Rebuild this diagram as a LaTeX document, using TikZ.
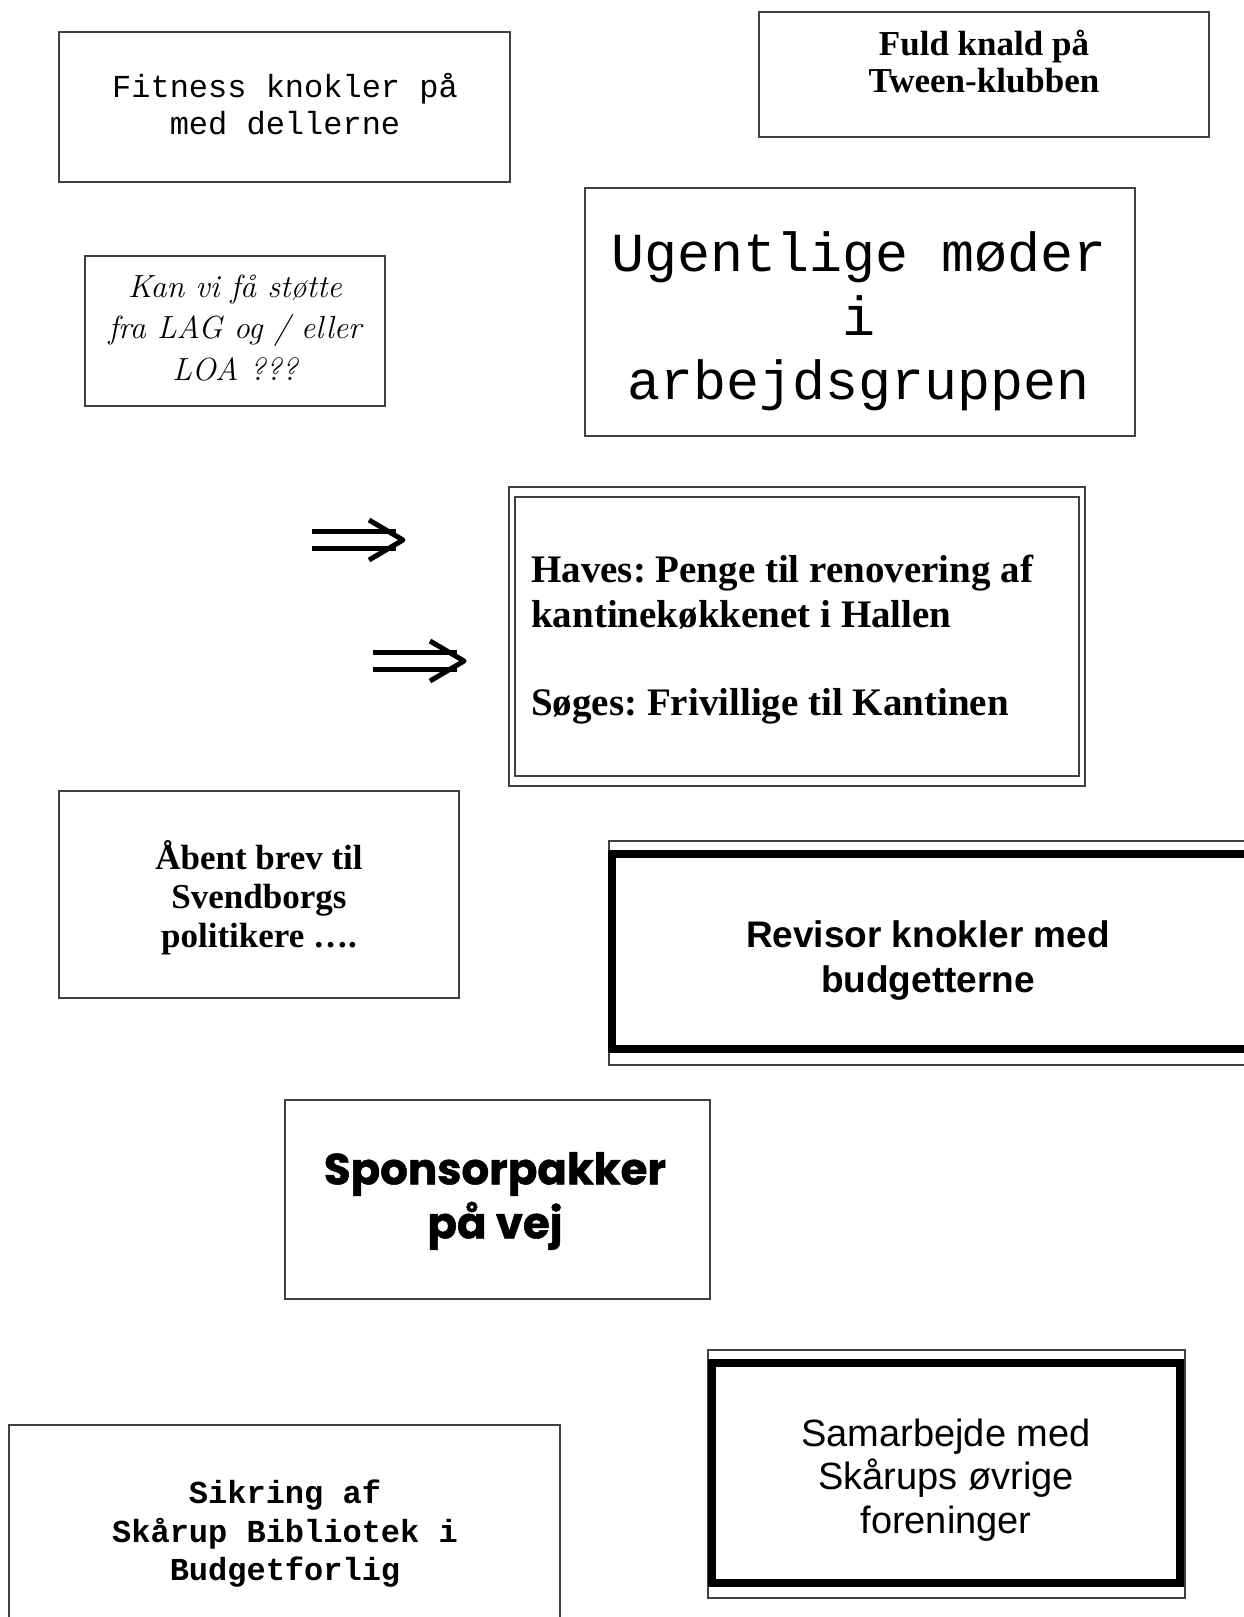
\documentclass[tikz,border=0pt]{standalone}
\usepackage{fontspec}
\newfontfamily\courierfont{Liberation Mono}
\newfontfamily\timesfont{Liberation Serif}
\newfontfamily\arialfont{Liberation Sans}
\newfontfamily\poppinsfont{Poppins}[BoldFeatures={FakeBold=1.2}]
\frenchspacing

\begin{document}
\begin{tikzpicture}[x=1pt,y=-1pt,
    box/.style={draw=black!75,line width=2pt,inner sep=0pt},
    heavy/.style={draw=black,line width=8pt,inner sep=0pt},
    txt/.style={align=center,inner sep=0pt},
    dbl/.style={line width=5pt}]
  \useasboundingbox (0,0) rectangle (1244,1617);

  % top row
  \node[box,minimum width=451pt,minimum height=150pt] (fitness) at (284.5,107) {};
  \node[txt,font=\courierfont\fontsize{32}{37}\selectfont] (fitnesstxt) at (285,104) {Fitness knokler på\\med dellerne};
  \node[box,minimum width=450pt,minimum height=125pt] (fuld) at (984,74.5) {};
  \node[txt,font=\timesfont\bfseries\fontsize{35}{37}\selectfont] (fuldtxt) at (984,62) {Fuld knald på\\Tween-klubben};

  \node[box,minimum width=300pt,minimum height=150pt] (kanvi) at (235,331) {};
  \node[txt,font=\itshape\fontsize{32}{41.5}\selectfont] (kanvitxt) at (235,328) {Kan vi få støtte\\fra LAG og / eller\\LOA ???};
  \node[box,minimum width=550pt,minimum height=248pt] (ugent) at (860,312) {};
  \node[txt,font=\courierfont\fontsize{55}{64}\selectfont] (ugenttxt) at (859,321) {Ugentlige møder\\i\\arbejdsgruppen};

  % haves / soeges
  \node[box,minimum width=576pt,minimum height=299pt] (havesout) at (797,636.5) {};
  \node[box,minimum width=564pt,minimum height=279pt] (haves) at (797,636.5) {};
  \node[txt,align=left,anchor=west,font=\timesfont\bfseries\fontsize{39}{45}\selectfont] (havestxt) at (531,640)
    {Haves: Penge til renovering af\\kantinekøkkenet i Hallen\\[43pt]Søges: Frivillige til Kantinen};

  \foreach \n/\x/\y in {a/312/540, b/373/661} {
    \coordinate (tail\n) at (\x,\y);
    \coordinate (tip\n) at (\x+91,\y);
    \draw[dbl] ([yshift=8.5pt]tail\n) -- ([yshift=8.5pt,xshift=-7pt]tip\n);
    \draw[dbl] ([yshift=-8.5pt]tail\n) -- ([yshift=-8.5pt,xshift=-7pt]tip\n);
    \draw[dbl,line join=round] ([xshift=-34pt,yshift=20pt]tip\n) -- (tip\n) -- ([xshift=-34pt,yshift=-20pt]tip\n);
  }

  % middle
  \node[box,minimum width=400pt,minimum height=207pt] (aabent) at (259,894.5) {};
  \node[txt,font=\timesfont\bfseries\fontsize{35}{39}\selectfont] (aabenttxt) at (259,898) {Åbent brev til\\Svendborgs\\politikere ….};
  \node[box,minimum width=651pt,minimum height=224pt] (revisorout) at (934.5,953) {};
  \node[heavy,minimum width=648pt,minimum height=195pt] (revisor) at (936,951.5) {};
  \node[txt,font=\arialfont\bfseries\fontsize{37}{45}\selectfont] (revisortxt) at (928,961) {Revisor knokler med\\budgetterne};

  \node[box,minimum width=425pt,minimum height=199pt] (sponsor) at (497.5,1199.5) {};
  \node[txt,font=\poppinsfont\bfseries\fontsize{43.5}{54}\selectfont] (sponsortxt) at (495,1201) {Sponsorpakker\\på vej};

  % bottom row
  \node[box,minimum width=551pt,minimum height=235pt] (sikring) at (284.5,1542.5) {};
  \node[txt,font=\courierfont\bfseries\fontsize{32}{38.5}\selectfont] (sikringtxt) at (285,1534) {Sikring af\\Skårup Bibliotek i\\Budgetforlig};
  \node[box,minimum width=477pt,minimum height=248pt] (samarbout) at (946.5,1474) {};
  \node[heavy,minimum width=468pt,minimum height=220pt] (samarb) at (946,1473) {};
  \node[txt,font=\arialfont\fontsize{38}{43.5}\selectfont] (samarbtxt) at (946,1480) {Samarbejde med\\Skårups øvrige\\foreninger};
\end{tikzpicture}
\end{document}
